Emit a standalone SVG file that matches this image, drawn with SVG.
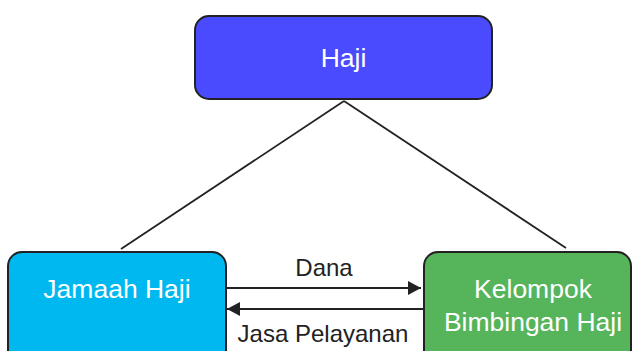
<svg xmlns="http://www.w3.org/2000/svg" width="632" height="351" viewBox="0 0 632 351">
<style>
.node{stroke:#222;stroke-width:2}
.nt{font-family:"Liberation Sans",Arial,sans-serif;font-size:26.5px;fill:#fff;text-anchor:middle}
.lt{font-family:"Liberation Sans",Arial,sans-serif;font-size:24px;fill:#222;text-anchor:middle}
.ln{stroke:#222;stroke-width:1.8;fill:none}
</style>
<defs>
<marker id="ah" markerWidth="13" markerHeight="14" refX="13" refY="7" orient="auto" markerUnits="userSpaceOnUse" viewBox="0 0 13 14">
<path d="M0,0 L13,7 L0,14 Z" fill="#222"/>
</marker>
</defs>
<rect width="632" height="351" fill="#fff"/>
<g id="connectors">
<line class="ln" x1="344" y1="101" x2="121" y2="249"/>
<line class="ln" x1="344" y1="101" x2="566" y2="248"/>
<line class="ln" x1="226" y1="288" x2="421" y2="288" marker-end="url(#ah)"/>
<line class="ln" x1="424" y1="309" x2="227" y2="309" marker-end="url(#ah)"/>
<text class="lt" x="324" y="276">Dana</text>
<text class="lt" x="323" y="342">Jasa Pelayanan</text>
</g>
<g id="haji">
<rect class="node" x="195" y="16" width="297" height="83" rx="14" fill="#4a4aff"/>
<text class="nt" x="343.5" y="67">Haji</text>
</g>
<g id="jamaah">
<rect class="node" x="8" y="252" width="218" height="120" rx="14" fill="#00b8f0"/>
<text class="nt" x="117" y="298">Jamaah Haji</text>
</g>
<g id="kbih">
<rect class="node" x="424" y="252" width="207" height="120" rx="14" fill="#56b45a"/>
<text class="nt" x="533" y="298">Kelompok</text>
<text class="nt" x="533" y="331">Bimbingan Haji</text>
</g>
</svg>
